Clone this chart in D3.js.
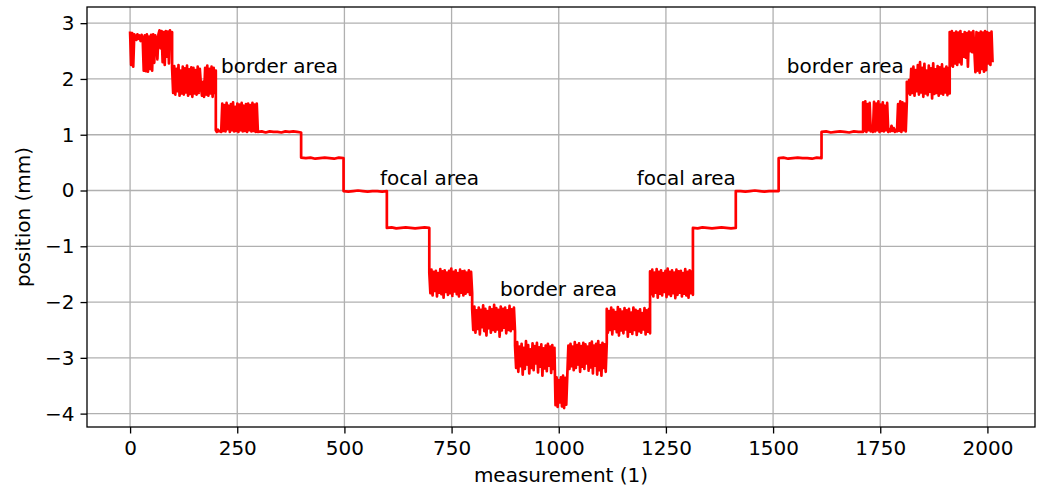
<!DOCTYPE html>
<html>
<head>
<meta charset="utf-8">
<script src="https://cdn.jsdelivr.net/npm/d3@7/dist/d3.min.js"></script>
<style>
  html, body { margin: 0; padding: 0; background: #fff; }
  svg { display: block; }
  text { font-family: "DejaVu Sans", sans-serif; }
</style>
</head>
<body>
<div id="chart"></div>
<script>
// ---- data ----
// measurement index where each plateau begins / ends
const segBounds = [0, 98, 200, 298, 399, 498, 599, 698, 798, 898, 990, 1020, 1112, 1213, 1313, 1413, 1513, 1613, 1710, 1812, 1912, 2012];

// position readings (mm) along each plateau
const segA = [2.85, 2.25, 2.82, 2.22, 2.80, 2.76, 2.70, 2.80, 2.72, 2.78, 2.68, 2.79, 2.73, 2.15, 2.78, 2.14, 2.80, 2.13, 2.76, 2.18, 2.79, 2.15, 2.80, 2.29, 2.78, 2.72, 2.35, 2.80, 2.87, 2.55, 2.86, 2.30, 2.84, 2.25, 2.86, 2.40, 2.85, 2.28, 2.87, 2.60, 2.84];
const segB = [2.20, 1.75, 2.23, 1.72, 2.18, 1.78, 2.25, 1.70, 2.15, 1.74, 2.22, 1.72, 2.19, 1.76, 2.24, 1.70, 2.17, 1.73, 2.21, 1.68, 2.20, 1.74, 2.16, 1.72, 2.22, 1.75, 2.18, 1.90, 1.70, 1.95, 1.68, 2.20, 1.72, 2.24, 1.70, 2.18, 1.74, 2.22, 1.68, 2.20, 1.75, 2.15];
const segC = [1.08, 1.05, 1.09, 1.06, 1.07, 1.05, 1.56, 1.07, 1.53, 1.06, 1.57, 1.10, 1.52, 1.05, 1.55, 1.08, 1.58, 1.06, 1.50, 1.07, 1.56, 1.05, 1.54, 1.08, 1.57, 1.06, 1.52, 1.07, 1.55, 1.05, 1.56, 1.08, 1.53, 1.06, 1.57, 1.07, 1.54, 1.05, 1.56, 1.07];
const segD = [1.05, 1.06, 1.04, 1.06, 1.05, 1.05, 1.04, 1.06, 1.05, 1.06, 1.05, 1.04];
const segE = [0.59, 0.58, 0.59, 0.57, 0.58, 0.59, 0.58, 0.57, 0.59, 0.58];
const segF = [-0.01, -0.02, -0.01, 0.00, -0.01, -0.02, -0.01, -0.01, -0.02, -0.01];
const segG = [-0.67, -0.66, -0.68, -0.67, -0.66, -0.67, -0.68, -0.67, -0.66, -0.67];
const segH = [-1.47, -1.84, -1.42, -1.88, -1.46, -1.80, -1.44, -1.90, -1.48, -1.83, -1.41, -1.86, -1.45, -1.92, -1.43, -1.82, -1.47, -1.87, -1.44, -1.84, -1.40, -1.89, -1.46, -1.81, -1.43, -1.86, -1.48, -1.90, -1.42, -1.83, -1.45, -1.88, -1.44, -1.85, -1.47, -1.82, -1.43, -1.87, -1.46, -1.84];
const segI = [-2.12, -2.50, -2.08, -2.55, -2.15, -2.48, -2.10, -2.58, -2.14, -2.45, -2.06, -2.52, -2.12, -2.60, -2.16, -2.47, -2.09, -2.55, -2.13, -2.50, -2.05, -2.53, -2.11, -2.49, -2.14, -2.62, -2.08, -2.51, -2.12, -2.46, -2.10, -2.56, -2.15, -2.50, -2.07, -2.52, -2.13, -2.48, -2.10, -2.53];
const segJ = [-2.78, -3.18, -2.72, -3.25, -2.80, -3.15, -2.75, -3.30, -2.82, -3.20, -2.70, -3.12, -2.77, -3.28, -2.85, -3.18, -2.74, -3.22, -2.79, -3.10, -2.73, -3.26, -2.81, -3.16, -2.76, -3.32, -2.83, -3.19, -2.78, -3.24, -2.75, -3.14, -2.80, -3.27, -2.77, -3.20, -2.82];
const segK = [-2.85, -3.85, -3.35, -3.88, -3.40, -3.80, -3.35, -3.87, -3.32, -3.90, -3.36, -3.84, -3.30];
const segL = [-3.30, -2.78, -3.20, -2.75, -3.15, -2.80, -3.22, -2.72, -3.18, -2.77, -3.12, -2.74, -3.25, -2.79, -3.16, -2.73, -3.20, -2.76, -3.10, -2.80, -3.23, -2.74, -3.17, -2.71, -3.28, -2.78, -3.14, -2.75, -3.30, -2.70, -3.22, -2.77, -3.32, -2.73, -3.18, -2.76, -3.25, -2.74];
const segM = [-2.12, -2.55, -2.16, -2.50, -2.10, -2.58, -2.14, -2.48, -2.18, -2.54, -2.09, -2.60, -2.13, -2.51, -2.17, -2.56, -2.11, -2.49, -2.15, -2.62, -2.12, -2.53, -2.19, -2.57, -2.10, -2.50, -2.14, -2.59, -2.16, -2.52, -2.13, -2.55, -2.20, -2.49, -2.11, -2.58, -2.15, -2.53, -2.12, -2.56];
const segN = [-1.45, -1.86, -1.42, -1.90, -1.47, -1.83, -1.41, -1.92, -1.46, -1.85, -1.43, -1.88, -1.48, -1.82, -1.44, -1.91, -1.40, -1.86, -1.46, -1.89, -1.43, -1.84, -1.47, -1.93, -1.42, -1.87, -1.45, -1.83, -1.44, -1.90, -1.48, -1.85, -1.41, -1.88, -1.46, -1.92, -1.43, -1.84, -1.45, -1.87];
const segO = [-0.67, -0.68, -0.66, -0.67, -0.68, -0.67, -0.66, -0.67, -0.68, -0.67];
const segP = [-0.01, -0.01, -0.02, -0.01, 0.00, -0.01, -0.02, -0.01, -0.01, -0.01];
const segQ = [0.58, 0.59, 0.57, 0.58, 0.59, 0.58, 0.58, 0.57, 0.59, 0.58];
const segR = [1.05, 1.06, 1.04, 1.05, 1.06, 1.05, 1.04, 1.06, 1.05, 1.05];
const segS = [1.58, 1.07, 1.60, 1.05, 1.55, 1.08, 1.57, 1.06, 1.08, 1.05, 1.59, 1.06, 1.56, 1.08, 1.60, 1.05, 1.54, 1.07, 1.58, 1.06, 1.52, 1.08, 1.57, 1.05, 1.10, 1.06, 1.16, 1.07, 1.12, 1.05, 1.09, 1.06, 1.55, 1.07, 1.60, 1.05, 1.58, 1.08, 1.56, 1.06, 1.59];
const segT = [1.95, 1.74, 1.98, 1.72, 2.18, 1.75, 2.22, 1.70, 2.16, 1.78, 2.25, 1.72, 2.30, 1.76, 2.20, 1.68, 2.27, 1.74, 2.15, 1.71, 2.24, 1.77, 2.19, 1.65, 2.28, 1.73, 2.17, 1.75, 2.23, 1.70, 2.21, 1.74, 2.26, 1.72, 2.18, 1.76, 2.22, 1.71, 2.20, 1.74];
const segU = [2.84, 2.24, 2.86, 2.22, 2.82, 2.28, 2.85, 2.25, 2.83, 2.30, 2.86, 2.26, 2.80, 2.40, 2.84, 2.38, 2.82, 2.22, 2.85, 2.50, 2.83, 2.48, 2.86, 2.52, 2.12, 2.84, 2.15, 2.82, 2.11, 2.85, 2.18, 2.83, 2.13, 2.86, 2.16, 2.84, 2.28, 2.82, 2.25, 2.85, 2.30];

const segments = [segA, segB, segC, segD, segE, segF, segG, segH, segI, segJ, segK, segL, segM, segN, segO, segP, segQ, segR, segS, segT, segU];

// annotations
const noteLabels = ["border area", "focal area", "border area", "focal area", "border area"];
const noteX = [212, 583, 863, 1182, 1532];
const noteY = [2.1, 0.1, -1.9, 0.1, 2.1];

const xTicks = [0, 250, 500, 750, 1000, 1250, 1500, 1750, 2000];
const yTicks = [-4, -3, -2, -1, 0, 1, 2, 3];
const xLabel = "measurement (1)";
const yLabel = "position (mm)";

// ---- build point list ----
const points = [];
segments.forEach((vals, s) => {
  const a = segBounds[s], b = segBounds[s + 1], n = vals.length;
  vals.forEach((v, i) => points.push([a + (b - a) * i / (n - 1), v]));
});

// ---- layout ----
const W = 1044, H = 487;
const plot = { left: 87, right: 1035, top: 7, bottom: 427 };
const FS = 20;

const svg = d3.select("#chart").append("svg")
  .attr("width", W).attr("height", H);

const x = d3.scaleLinear().domain([-100.5, 2111]).range([plot.left, plot.right]);
const y = d3.scaleLinear().domain([-4.24, 3.29]).range([plot.bottom, plot.top]);

// grid
const grid = svg.append("g").attr("stroke", "#b0b0b0").attr("stroke-width", 1.3);
grid.selectAll("line.gx").data(xTicks).join("line")
  .attr("x1", d => x(d)).attr("x2", d => x(d))
  .attr("y1", plot.top).attr("y2", plot.bottom);
grid.selectAll("line.gy").data(yTicks).join("line")
  .attr("x1", plot.left).attr("x2", plot.right)
  .attr("y1", d => y(d)).attr("y2", d => y(d));

// data line
svg.append("defs").append("clipPath").attr("id", "clip")
  .append("rect").attr("x", plot.left).attr("y", plot.top)
  .attr("width", plot.right - plot.left).attr("height", plot.bottom - plot.top);

const line = d3.line().x(d => x(d[0])).y(d => y(d[1]));
svg.append("path")
  .datum(points)
  .attr("clip-path", "url(#clip)")
  .attr("fill", "none")
  .attr("stroke", "#ff0000")
  .attr("stroke-width", 2.7)
  .attr("stroke-linejoin", "round")
  .attr("d", line);

// annotations
svg.append("g").selectAll("text").data(noteLabels).join("text")
  .attr("x", (d, i) => x(noteX[i]))
  .attr("y", (d, i) => y(noteY[i]))
  .attr("font-size", FS)
  .attr("fill", "#000")
  .text(d => d);

// axes
const fmt = d => (d < 0 ? "\u2212" + Math.abs(d) : String(d));
const xAxis = d3.axisBottom(x).tickValues(xTicks).tickFormat(fmt).tickSize(6.5).tickPadding(7);
const yAxis = d3.axisLeft(y).tickValues(yTicks).tickFormat(fmt).tickSize(6.5).tickPadding(6);

const gx = svg.append("g").attr("transform", `translate(0,${plot.bottom})`).call(xAxis);
const gy = svg.append("g").attr("transform", `translate(${plot.left},0)`).call(yAxis);
[gx, gy].forEach(g => {
  g.select(".domain").remove();
  g.selectAll(".tick line").attr("stroke", "#000").attr("stroke-width", 1.3);
  g.selectAll(".tick text").attr("font-size", FS).attr("fill", "#000")
    .attr("font-family", "DejaVu Sans");
});

// frame
svg.append("rect")
  .attr("x", plot.left).attr("y", plot.top)
  .attr("width", plot.right - plot.left).attr("height", plot.bottom - plot.top)
  .attr("fill", "none").attr("stroke", "#000").attr("stroke-width", 1.3);

// axis labels
svg.append("text")
  .attr("x", (plot.left + plot.right) / 2).attr("y", 482)
  .attr("text-anchor", "middle").attr("font-size", FS).attr("fill", "#000")
  .text(xLabel);
svg.append("text")
  .attr("transform", `translate(30,${(plot.top + plot.bottom) / 2}) rotate(-90)`)
  .attr("text-anchor", "middle").attr("font-size", FS).attr("fill", "#000")
  .text(yLabel);
</script>
</body>
</html>
